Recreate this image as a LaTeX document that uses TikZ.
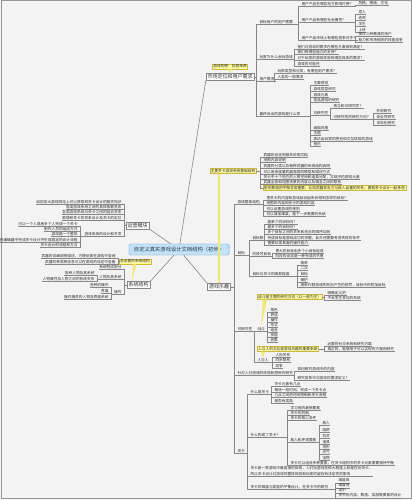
\documentclass[tikz,border=0pt]{standalone}
\usepackage{fontspec}
\setmainfont{Noto Sans CJK SC}
\definecolor{tinta}{RGB}{45,45,45}
\definecolor{linea}{RGB}{135,135,135}
\definecolor{fondo}{RGB}{243,243,243}
\definecolor{marco}{RGB}{150,150,150}
\definecolor{amarillo}{RGB}{255,250,160}
\definecolor{oro}{RGB}{200,185,70}
\definecolor{cinta}{RGB}{242,232,110}
\definecolor{celeste}{RGB}{196,226,247}
\definecolor{azul}{RGB}{95,155,210}
\newcommand\hoja{\fontsize{3.7}{4.3}\selectfont}
\newcommand\rama{\fontsize{5}{6}\selectfont}
\tikzset{
  link/.style={draw=linea,line width=0.6pt},
  fork/.style={to path={-| ([xshift=#1]\tikztotarget) -- (\tikztotarget)}},
  fork/.default=-2.5pt,
  leaf/.style={font=\hoja,text=tinta,inner xsep=0.3pt,inner ysep=0.5pt,anchor=west,
    append after command={(\tikzlastnode.south west) edge[link] (\tikzlastnode.south east)}},
  lleaf/.style={leaf,anchor=east},
  tema/.style={draw=linea,fill=white,font=\rama,text=tinta,inner xsep=1.5pt,inner ysep=1pt},
  nota/.style={draw=oro,fill=amarillo,font=\hoja,text=tinta,inner xsep=1pt,inner ysep=0.6pt},
  centro/.style={draw=azul,fill=celeste,rounded corners=1.5pt,font=\fontsize{5.3}{6}\selectfont,
    text=azul!35!black,inner xsep=5pt,inner ysep=3pt}
}
\begin{document}
\begin{tikzpicture}[x=1pt,y=-1pt]
  \useasboundingbox (0,0) rectangle (412,500);
  \fill[fondo] (0,0) rectangle (412,500);
  \draw[marco,line width=0.8pt] (1.5,0.8) rectangle (411.2,498.6);

  % centro y ramas principales
  \node[centro] (ctr) at (179,249.5) {自定义真实游戏设计文档结构（初步）};
  \node[tema] (mkt) at (230,77) {市场定位和用户需求};
  \node[tema] (fun) at (219,287) {游戏乐趣};
  \node[tema] (reg) at (137.5,225.5) {运营模块};
  \node[tema] (sys) at (138.5,285) {系统结构};
  \draw[link] (ctr) -- (mkt.south west);
  \draw[link] (ctr) -- (fun.north west);
  \draw[link] (ctr) -- (reg.south east);
  \draw[link] (ctr) -- (sys.north east);

  % notas
  \node[nota] (idea) at (230,66.5) {游戏构想：创意来源};
  \fill[cinta] ([xshift=-1.5pt]idea.south) -- ([xshift=1.5pt]idea.south) -- (mkt.north) -- cycle;
  \node[nota] (base) at (233,171) {主要关卡游戏系统基础结构};
  \draw[cinta,line width=2.4pt] (fun.north) -- (fun.north |- base.south);
  \node[nota] (opc) at (135,261.5) {非必要的系统结构};
  \fill[cinta] ([xshift=-1.5pt]opc.south) -- ([xshift=1.5pt]opc.south) -- ([xshift=-7pt]sys.north) -- cycle;

  %市场定位
  \foreach \y/\t [count=\i] in {22/目标用户的用户需要,57/玩家为什么会玩游戏,79/用户需求,114/最终会出的游戏是什么样}
    {\node[leaf] (m\i) at (259,\y) {\t}; \draw[link] (mkt.east) to[fork] (m\i.south west);}
  \foreach \y/\t [count=\i] in {4/用户产品在哪些地方影响付费？,20/用户产品有哪些社会属性？,38/用户产品市场上有哪些竞争对手？}
    {\node[leaf] (m1\i) at (301,\y) {\t}; \draw[link] (m1.south east) to[fork] (m1\i.south west);}
  \node[leaf] (m111) at (358,3) {风格、等级、文化};
  \draw[link] (m11.south east) to[fork] (m111.south west);
  \foreach \y/\t [count=\i] in {12/成人,18/老师,24/学生,30/上班}
    {\node[leaf] (m12-\i) at (358,\y) {\t}; \draw[link] (m12.south east) to[fork] (m12-\i.south west);}
  \foreach \y/\t [count=\i] in {34/受过三种教育的用户,40/能力和市场相关的技能竞争}
    {\node[leaf] (m13-\i) at (358,\y) {\t}; \draw[link] (m13.south east) to[fork] (m13-\i.south west);}
  \foreach \y/\t [count=\i] in {47/他们对游戏的需求在哪些方面得到满足？,52/我们有哪些能力的支持？,58/对于玩家的游戏体验有哪些具体的需求？,64/游戏的可能性}
    {\node[leaf] (m2-\i) at (297,\y) {\t}; \draw[link] (m2.south east) to[fork] (m2-\i.south west);}
  \foreach \y/\t [count=\i] in {71/玩家类型和分类，有哪些用户需求？,77/人类的一般需求}
    {\node[leaf] (m3-\i) at (277,\y) {\t}; \draw[link] (m3.south east) to[fork] (m3-\i.south west);}
  \foreach \y/\t [count=\i] in {83/主要感觉,89/游戏类型研究,95/游戏元素,100/竞品游戏的研究,113/可研究性,128/画面风格,133/主题,139/表达出玩家的感觉和交互体验的游戏,144/音乐}
    {\node[leaf] (m4-\i) at (313,\y) {\t}; \draw[link] (m4.south east) to[fork] (m4-\i.south west);}
  \foreach \y/\t [count=\i] in {106/独立和可研究性？,117/可研究性的研究方向？}
    {\node[leaf] (m45-\i) at (333,\y) {\t}; \draw[link] (m4-5.south east) to[fork] (m45-\i.south west);}
  \foreach \y/\t [count=\i] in {111/外观研究,117/安全性研究,123/本地化研究}
    {\node[leaf] (m452-\i) at (376,\y) {\t}; \draw[link] (m45-2.south east) to[fork] (m452-\i.south west);}

  % 基础结构
  \foreach \y/\t [count=\i] in {155/武器的设定和相关说明文档,160/地图内容说明,166/武器的分类以及每种武器的系统结构说明,172/可以用来度量武器强弱的模型和描述方式,177/关卡中十个地方的人数空间和道具分配，文档中的游戏元素,182/武器全体和地图场景的内容以及相互之间的联系}
    {\node[leaf] (b\i) at (263,\y) {\t}; \draw[link] (base.east) to[fork] (b\i.south west);}
  \node[nota,anchor=west] (b7) at (263,188) {影响数值的平衡非常重要，比如武器攻击力与敌人血量的关系，要和关卡设计一起考虑};
  \draw[link] (base.east) to[fork] (b7.west);

  % 游戏乐趣
  \node[leaf] (f1) at (237,202) {游戏整体结构};
  \node[leaf] (f2) at (237,253) {目标};
  \node[leaf] (f3) at (237,329) {可研究性};
  \node[leaf] (f4) at (237,373) {针对人对游戏的体验和感受的研究};
  \node[leaf] (f5) at (237,451) {关卡};
  \foreach \n in {1,...,5} \draw[link] (fun.east) to[fork] (f\n.south west);
  \foreach \y/\t [count=\i] in {198/把关卡的内容和游戏结合起来会得到怎样的目标？,203/地图的内容和关卡的游戏内容,209/可以设置游戏的规则,214/可以增加难度，是下一步需要的系统}
    {\node[leaf] (f1-\i) at (266,\y) {\t}; \draw[link] (f1.south east) to[fork] (f1-\i.south west);}
  \foreach \y/\t [count=\i] in {238/目标数,254/阶段性目标,274/目标与关卡的难易程度}
    {\node[leaf] (f2\i) at (252,\y) {\t}; \draw[link] (f2.south east) to[fork] (f2\i.south west);}
  \foreach \y/\t [count=\i] in {222/是单个的目标吗？,227/是多个的目标吗？,232/多个目标之间的关系和先后的顺序如何,238/完成目标是游戏成功的关键，此外还需要考虑失败的条件,243/需要玩家具备的操作能力}
    {\node[leaf] (f21-\i) at (267,\y) {\t}; \draw[link] (f21.south east) to[fork] (f21-\i.south west);}
  \foreach \y/\t [count=\i] in {251/更大的目标由多个小目标组成,256/阶段的设定是一种完成的节奏}
    {\node[leaf] (f22-\i) at (275,\y) {\t}; \draw[link] (f22.south east) to[fork] (f22-\i.south west);}
  \foreach \y/\t [count=\i] in {263/简单,268/二次,274/目标,280/保护,285/用来代替游戏失败后产生的惩罚，目标中的附加目标}
    {\node[leaf] (f23-\i) at (300,\y) {\t}; \draw[link] (f23.south east) to[fork] (f23-\i.south west);}

  \node[leaf] (f31) at (257,329) {战斗};
  \node[leaf] (f32) at (257,360) {人与人};
  \draw[link] (f3.south east) to[fork] (f31.south west);
  \draw[link] (f3.south east) to[fork] (f32.south west);
  \foreach \y/\t [count=\i] in {310/角色,315/养成,320/操作,325/形式,330/组合,335/技能,340/收集}
    {\node[leaf] (f31-\i) at (270,\y) {\t}; \draw[link] (f31.south east) to[fork] (f31-\i.south west);}
  \foreach \y/\t [count=\i] in {355/人际关系,360/同步联系,366/竞争}
    {\node[leaf] (f32-\i) at (275,\y) {\t}; \draw[link] (f32.south east) to[fork] (f32-\i.south west);}
  \node[nota,anchor=west] (c31) at (257,297) {战斗是主要的研究方向（以一般为主）};
  \fill[cinta] ([xshift=6pt]c31.south west) -- ([xshift=10pt]c31.south west) -- (f31.north) -- cycle;
  \foreach \y/\t [count=\i] in {293/明确定义的,298/不会发生变化的系统}
    {\node[leaf] (c31-\i) at (327,\y) {\t}; \draw[link] (c31.east) to[fork] (c31-\i.south west);}
  \node[nota,anchor=west] (c32) at (257,349) {人与人的交互是游戏乐趣的重要来源};
  \fill[cinta] ([xshift=4pt]c32.south west) -- ([xshift=8pt]c32.south west) -- (f32.north) -- cycle;
  \foreach \y/\t [count=\i] in {344/必要的社交系统和研究方案,349/真正的，能够用于可以实现的方案和研究}
    {\node[leaf] (c32-\i) at (327,\y) {\t}; \draw[link] (c32.east) to[fork] (c32-\i.south west);}

  \foreach \y/\t [count=\i] in {369/如何研究游戏中的内容,378/研究竞争中对游戏的要求定义？}
    {\node[leaf] (f4-\i) at (297,\y) {\t}; \draw[link] (f4.south east) to[fork] (f4-\i.south west);}

  % 关卡
  \node[leaf] (f51) at (250,392) {什么是关卡};
  \node[leaf] (f52) at (250,435) {什么构成了关卡？};
  \node[leaf,align=left,font=\fontsize{3.7}{6}\selectfont] (f53) at (250,471)
    {关卡是一款游戏中最直接的体现，人们玩游戏在很大程度上就是在玩关卡，\\所以关卡设计对游戏的整体体验和玩家的留存有决定性的影响};
  \node[leaf] (f54) at (250,487) {关卡的难度与奖励的平衡设计，在关卡中的研究};
  \foreach \n in {1,...,4} \draw[link] (f5.south east) to[fork] (f5\n.south west);
  \foreach \y/\t [count=\i] in {384/关卡元素有几点,390/每场一段时间，完成一个关卡点,395/几点之间的时间限制和关卡流程,401/是否有奖励}
    {\node[leaf] (f51-\i) at (274,\y) {\t}; \draw[link] (f51.south east) to[fork] (f51-\i.south west);}
  \foreach \y/\t [count=\i] in {408/学习用的最新要素,413/关卡的机制,418/关卡的核心条件,440/敌人和环境要素,463/关卡可以组合多种要素，在关卡结构中的关卡元素需要保持平衡}
    {\node[leaf] (f52-\i) at (290,\y) {\t}; \draw[link] (f52.south east) to[fork] (f52-\i.south west);}
  \foreach \y/\t [count=\i] in {423/敌人,430/陷阱,436/机关,442/道具,447/地形,452/天气,458/宝物}
    {\node[leaf] (f524-\i) at (322,\y) {\t}; \draw[link] (f52-4.south east) to[fork] (f524-\i.south west);}
  \foreach \y/\t [count=\i] in {480.5/难度高,485.5/难度低,490.5/适中,495.5/关卡的内容、数值、奖励等要素的设计}
    {\node[leaf] (f54-\i) at (338,\y) {\t}; \draw[link] (f54.south east) to[fork] (f54-\i.south west);}

  % 运营模块
  \foreach \y/\t [count=\i] in {202/目前各大游戏网站上可以获取到关卡设计的相关知识,207/各类游戏系统之间的具体依赖关系,212/各类游戏系统与关卡之间的组合关系,218/剧情和关卡的关系设计及关卡的定位,234/游戏系统的设计和开发}
    {\node[lleaf] (r\i) at (122,\y) {\t}; \draw[link] (reg.west) to[fork=2.5pt] (r\i.south east);}
  \foreach \y/\t [count=\i] in {224/可以一个人或者多个人完成一个关卡,229/制作人员的组成方式,234/游戏是一个整体,240/在编辑器中完成关卡设计并形成固定的设计流程,245/关卡设计的流程和方法}
    {\node[lleaf] (r5-\i) at (78,\y) {\t}; \draw[link] (r5.south west) to[fork=2.5pt] (r5-\i.south east);}

  % 系统结构
  \foreach \y/\t [count=\i] in {256/武器的详细说明描述，方便玩家在游戏中查阅,262/武器的种类等信息可以在游戏的设定中查看}
    {\node[lleaf] (o\i) at (116,\y) {\t}; \draw[link] (opc.west) to[fork=2.5pt] (o\i.south east);}
  \foreach \y/\t [count=\i] in {267/系统构成部分,277/人物及其系统,292/操作}
    {\node[lleaf] (s\i) at (122,\y) {\t}; \draw[link] (sys.west) to[fork=2.5pt] (s\i.south east);}
  \foreach \y/\t [count=\i] in {273/各种人物及其系统,279/人物属性及人物之间的系统关系}
    {\node[lleaf] (s2-\i) at (95,\y) {\t}; \draw[link] (s2.south west) to[fork=2.5pt] (s2-\i.south east);}
  \foreach \y/\t [count=\i] in {285/各种的操作,291/界面,297/操作相关的人物及界面系统}
    {\node[lleaf] (s3-\i) at (109,\y) {\t}; \draw[link] (s3.south west) to[fork=2.5pt] (s3-\i.south east);}
\end{tikzpicture}
\end{document}
